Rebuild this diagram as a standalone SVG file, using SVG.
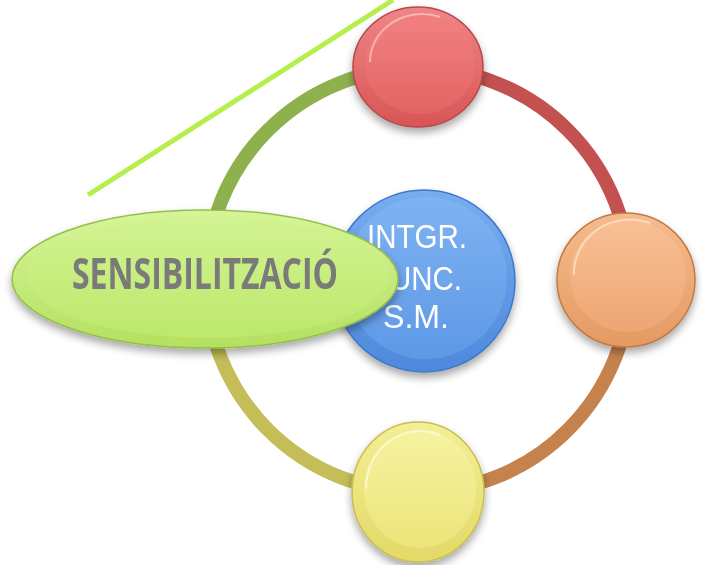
<svg xmlns="http://www.w3.org/2000/svg" width="702" height="565" viewBox="0 0 702 565">
<defs>
<filter id="sh" x="-20%" y="-20%" width="140%" height="150%">
<feGaussianBlur in="SourceAlpha" stdDeviation="4"/>
<feOffset dx="0" dy="5" result="b"/>
<feComponentTransfer><feFuncA type="linear" slope="0.35"/></feComponentTransfer>
<feMerge><feMergeNode/><feMergeNode in="SourceGraphic"/></feMerge>
</filter>
<linearGradient id="redO" x1="0" y1="0" x2="0" y2="1"><stop offset="0" stop-color="#f08585"/><stop offset="1" stop-color="#d85555"/></linearGradient>
<linearGradient id="redI" x1="0" y1="0" x2="0" y2="1"><stop offset="0" stop-color="#f28080"/><stop offset="1" stop-color="#e46464"/></linearGradient>
<linearGradient id="orO" x1="0" y1="0" x2="0" y2="1"><stop offset="0" stop-color="#f6bb8e"/><stop offset="1" stop-color="#e49a62"/></linearGradient>
<linearGradient id="orI" x1="0" y1="0" x2="0" y2="1"><stop offset="0" stop-color="#f8c096"/><stop offset="1" stop-color="#eea672"/></linearGradient>
<linearGradient id="yeO" x1="0" y1="0" x2="0" y2="1"><stop offset="0" stop-color="#f3ef96"/><stop offset="1" stop-color="#e3d968"/></linearGradient>
<linearGradient id="yeI" x1="0" y1="0" x2="0" y2="1"><stop offset="0" stop-color="#f6f3a0"/><stop offset="1" stop-color="#ece47a"/></linearGradient>
<linearGradient id="blO" x1="0" y1="0" x2="0" y2="1"><stop offset="0" stop-color="#79adf0"/><stop offset="1" stop-color="#4d88dc"/></linearGradient>
<linearGradient id="blI" x1="0" y1="0" x2="0" y2="1"><stop offset="0" stop-color="#7fb3f2"/><stop offset="1" stop-color="#5e98e6"/></linearGradient>
<linearGradient id="grO" x1="0" y1="0" x2="0" y2="1"><stop offset="0" stop-color="#d6f59a"/><stop offset="1" stop-color="#b4e060"/></linearGradient>
<linearGradient id="grI" x1="0" y1="0" x2="0" y2="1"><stop offset="0" stop-color="#d2f392"/><stop offset="1" stop-color="#bde86c"/></linearGradient>
</defs>
<style>
.seg{fill:none;stroke-width:14}
.lbl{font-family:"Liberation Sans",Arial,sans-serif;fill:#ffffff;font-size:34px;text-anchor:middle}
.main{font-family:"Open Sans","Liberation Sans",sans-serif;font-weight:bold;fill:#7a7a7a;font-size:32px;text-anchor:middle}
</style>
<g id="deco-line">
<line x1="88" y1="195" x2="393" y2="0" stroke="#b6ee4c" stroke-width="5"/>
</g>
<g id="connectors">
<path class="seg" d="M206,280 A212,212 0 0 1 418,68" stroke="#8fb14d"/>
<path class="seg" d="M418,68 A212,212 0 0 1 630,280" stroke="#c2514f"/>
<path class="seg" d="M630,280 A212,212 0 0 1 418,492" stroke="#c5824c"/>
<path class="seg" d="M418,492 A212,212 0 0 1 206,280" stroke="#c4bd58"/>
</g>
<g id="node-red" filter="url(#sh)">
<ellipse cx="418" cy="67" rx="65" ry="60" fill="url(#redO)" stroke="#b54848" stroke-width="1.5"/>
<ellipse cx="420" cy="64" rx="55" ry="50" fill="url(#redI)"/>
<path d="M370,62 A52,48 0 0 1 440,17" fill="none" stroke="#ffd6d6" stroke-width="2" opacity="0.6"/>
</g>
<g id="node-orange" filter="url(#sh)">
<ellipse cx="626" cy="280" rx="69" ry="67" fill="url(#orO)" stroke="#c07a45" stroke-width="1.5"/>
<ellipse cx="628" cy="276" rx="58" ry="56" fill="url(#orI)"/>
<path d="M574,275 A56,54 0 0 1 650,223" fill="none" stroke="#ffe8d0" stroke-width="2" opacity="0.7"/>
</g>
<g id="node-yellow" filter="url(#sh)">
<ellipse cx="418" cy="492" rx="66" ry="70" fill="url(#yeO)" stroke="#c8bd50" stroke-width="1.5"/>
<ellipse cx="420" cy="489" rx="56" ry="59" fill="url(#yeI)"/>
<path d="M366,489 A54,57 0 0 1 440,435" fill="none" stroke="#fffbe0" stroke-width="2" opacity="0.7"/>
</g>
<g id="node-center" filter="url(#sh)">
<circle cx="424" cy="281" r="91" fill="url(#blO)" stroke="#3f78c8" stroke-width="1.5"/>
<circle cx="426" cy="278" r="81" fill="url(#blI)"/>
<text class="lbl" x="417" y="248" textLength="100" lengthAdjust="spacingAndGlyphs">INTGR.</text>
<text class="lbl" x="417" y="290" textLength="90" lengthAdjust="spacingAndGlyphs">FUNC.</text>
<text class="lbl" x="416" y="328" textLength="66" lengthAdjust="spacingAndGlyphs">S.M.</text>
</g>
<g id="node-sensibilitzacio" filter="url(#sh)">
<ellipse cx="205" cy="279" rx="193" ry="69" fill="url(#grO)" stroke="#94c048" stroke-width="1.5"/>
<ellipse cx="208" cy="277" rx="181" ry="61" fill="url(#grI)"/>
<text class="main" transform="translate(205,289) scale(1,1.36)" x="0" y="0">SENSIBILITZACIÓ</text>
</g>
</svg>
